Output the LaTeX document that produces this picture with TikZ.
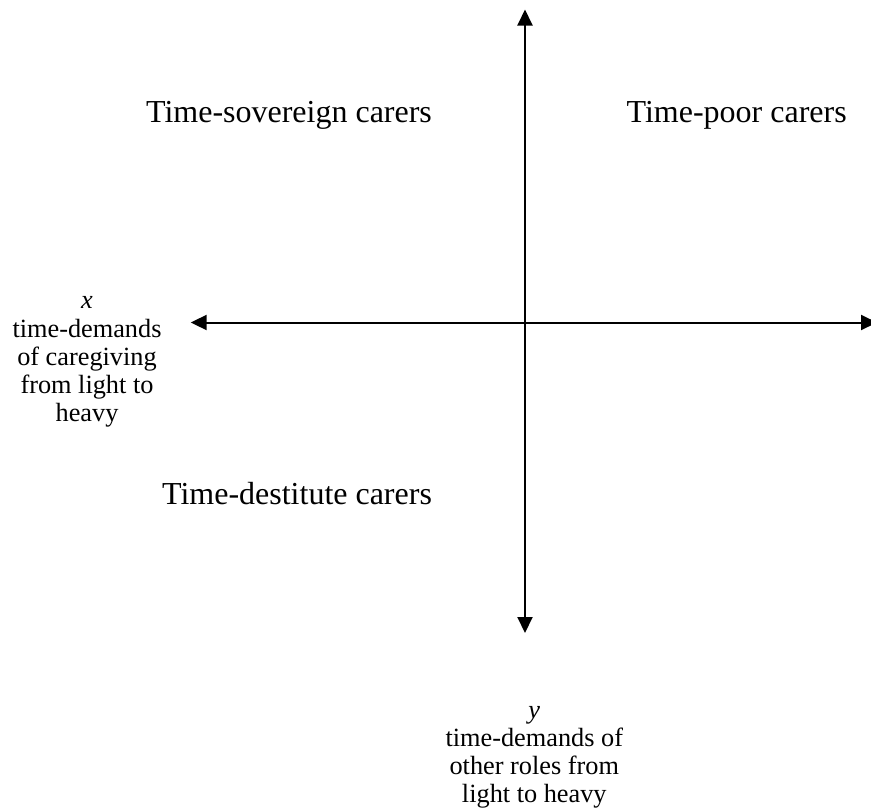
\documentclass[tikz,border=0pt]{standalone}
\usepackage{fontspec}
\setmainfont{Liberation Serif}
\usetikzlibrary{arrows.meta}
\begin{document}
\begin{tikzpicture}[x=1pt,y=-1pt,
  axis/.style={line width=2pt,{Triangle[length=16pt,width=15pt]}-{Triangle[length=16pt,width=15pt]}},
  quad/.style={font=\fontsize{32}{36}\selectfont,inner sep=0pt,anchor=base},
  small/.style={font=\fontsize{26.3}{28.3}\selectfont,inner sep=0pt,anchor=base}]
\useasboundingbox (0,0) rectangle (871,812);
\clip (0,0) rectangle (871,812);
\coordinate (ytop) at (525,9.5);
\coordinate (ybot) at (525,633);
\coordinate (xleft) at (190.7,322.5);
\coordinate (xright) at (877,322.5);
\draw[axis] (ybot) -- (ytop);
\draw[axis] (xleft) -- (xright);
\node[quad] (sov) at (289,122) {Time-sovereign carers};
\node[quad] (poor) at (736.7,122) {Time-poor carers};
\node[quad] (dest) at (297,504) {Time-destitute carers};
\node[small] (xl1) at (87,308.5) {\itshape x};
\node[small] (xl2) at (87,337) {time-demands};
\node[small] (xl3) at (87,365) {of caregiving};
\node[small] (xl4) at (87,393) {from light to};
\node[small] (xl5) at (87,421.5) {heavy};
\node[small] (yl1) at (534.3,718) {\itshape y};
\node[small] (yl2) at (534.3,746) {time-demands of};
\node[small] (yl3) at (534.3,774.5) {other roles from};
\node[small] (yl4) at (534.3,802) {light to heavy};
\end{tikzpicture}
\end{document}
